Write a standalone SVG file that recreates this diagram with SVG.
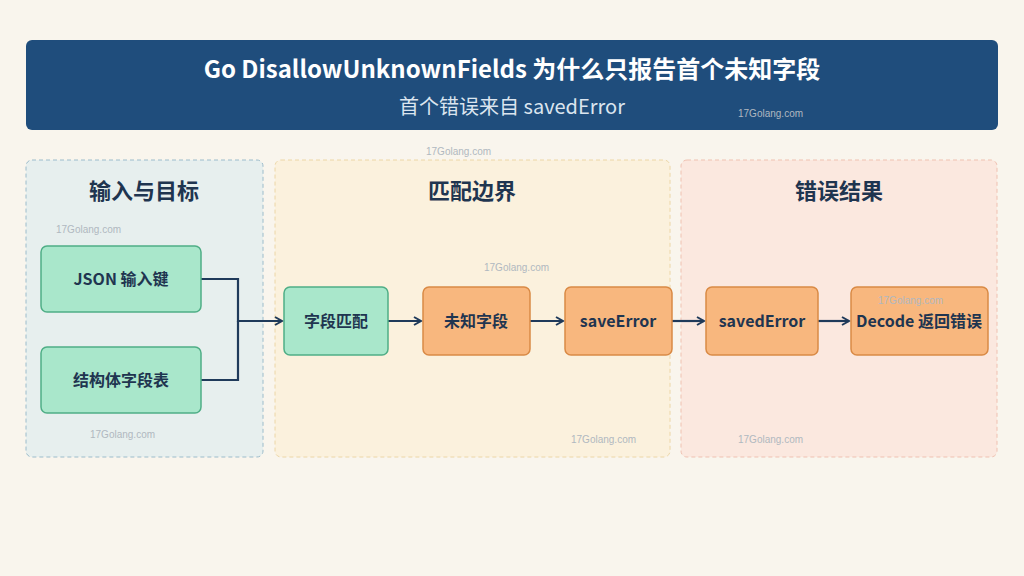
<svg xmlns="http://www.w3.org/2000/svg" width="1024" height="576" viewBox="0 0 1024 576">
<style>
text{font-family:"Noto Sans CJK SC","Noto Sans",sans-serif}
.pt{font-size:22px;font-weight:bold;fill:#1f3550;text-anchor:middle}
.nt{font-size:16px;font-weight:bold;fill:#1f3550;text-anchor:middle}
.g{fill:#a9e7cb;stroke:#4fae86;stroke-width:1.5}
.o{fill:#f8b77e;stroke:#d98a45;stroke-width:1.5}
.c{fill:none;stroke:#1f3a5a;stroke-width:2.2}
.ar{marker-end:url(#a)}
.wm{font-size:10px;fill:#b0b8c0;font-family:"Liberation Sans",sans-serif}
</style>
<defs><marker id="a" markerWidth="10" markerHeight="10" refX="8" refY="5" orient="auto" markerUnits="userSpaceOnUse"><path d="M1,1 L8,5 L1,9" fill="none" stroke="#1f3a5a" stroke-width="2"/></marker></defs>
<rect width="1024" height="576" fill="#f9f5ed"/>
<g id="title"><rect x="26" y="40" width="972" height="90" rx="6" fill="#1f4d7c"/>
<text x="512" y="78" font-size="24" font-weight="bold" fill="#fff" text-anchor="middle">Go DisallowUnknownFields 为什么只报告首个未知字段</text>
<text x="512" y="114" font-size="20" fill="#dbe5ef" text-anchor="middle">首个错误来自 savedError</text></g>
<g id="panel-input"><rect x="26" y="160" width="237" height="297" rx="6" fill="#e7efee" stroke="#9cbccb" stroke-dasharray="4 3"/><text class="pt" x="144" y="199">输入与目标</text></g>
<g id="panel-match"><rect x="275" y="160" width="395" height="297" rx="6" fill="#fbf1dd" stroke="#ecd6a6" stroke-dasharray="4 3"/><text class="pt" x="472" y="199">匹配边界</text></g>
<g id="panel-error"><rect x="681" y="160" width="316" height="297" rx="6" fill="#fbe8df" stroke="#efc1b1" stroke-dasharray="4 3"/><text class="pt" x="839" y="199">错误结果</text></g>
<g id="connectors">
<path class="c ar" d="M201,279 H238 V321 H282"/>
<path class="c" d="M201,380 H238 V321"/>
<path class="c ar" d="M388,321 H421"/>
<path class="c ar" d="M530,321 H563"/>
<path class="c ar" d="M672,321 H704"/>
<path class="c ar" d="M818,321 H849"/>
</g>
<g id="n-json"><rect class="g" x="41" y="246" width="160" height="66" rx="6"/><text class="nt" x="121" y="285">JSON 输入键</text></g>
<g id="n-struct"><rect class="g" x="41" y="347" width="160" height="66" rx="6"/><text class="nt" x="121" y="386">结构体字段表</text></g>
<g id="n-match"><rect class="g" x="284" y="287" width="104" height="68" rx="6"/><text class="nt" x="336" y="327">字段匹配</text></g>
<g id="n-unknown"><rect class="o" x="423" y="287" width="107" height="68" rx="6"/><text class="nt" x="476" y="327">未知字段</text></g>
<g id="n-save"><rect class="o" x="565" y="287" width="107" height="68" rx="6"/><text class="nt" x="618" y="327">saveError</text></g>
<g id="n-saved"><rect class="o" x="706" y="287" width="112" height="68" rx="6"/><text class="nt" x="762" y="327">savedError</text></g>
<g id="n-decode"><rect class="o" x="851" y="287" width="137" height="68" rx="6"/><text class="nt" x="919" y="327" font-size="15">Decode 返回错误</text></g>
<g id="watermarks">
<text class="wm" x="426" y="155">17Golang.com</text>
<text class="wm" x="738" y="117">17Golang.com</text>
<text class="wm" x="56" y="233">17Golang.com</text>
<text class="wm" x="484" y="271">17Golang.com</text>
<text class="wm" x="878" y="304">17Golang.com</text>
<text class="wm" x="90" y="438">17Golang.com</text>
<text class="wm" x="571" y="443">17Golang.com</text>
<text class="wm" x="738" y="443">17Golang.com</text>
</g>
</svg>
